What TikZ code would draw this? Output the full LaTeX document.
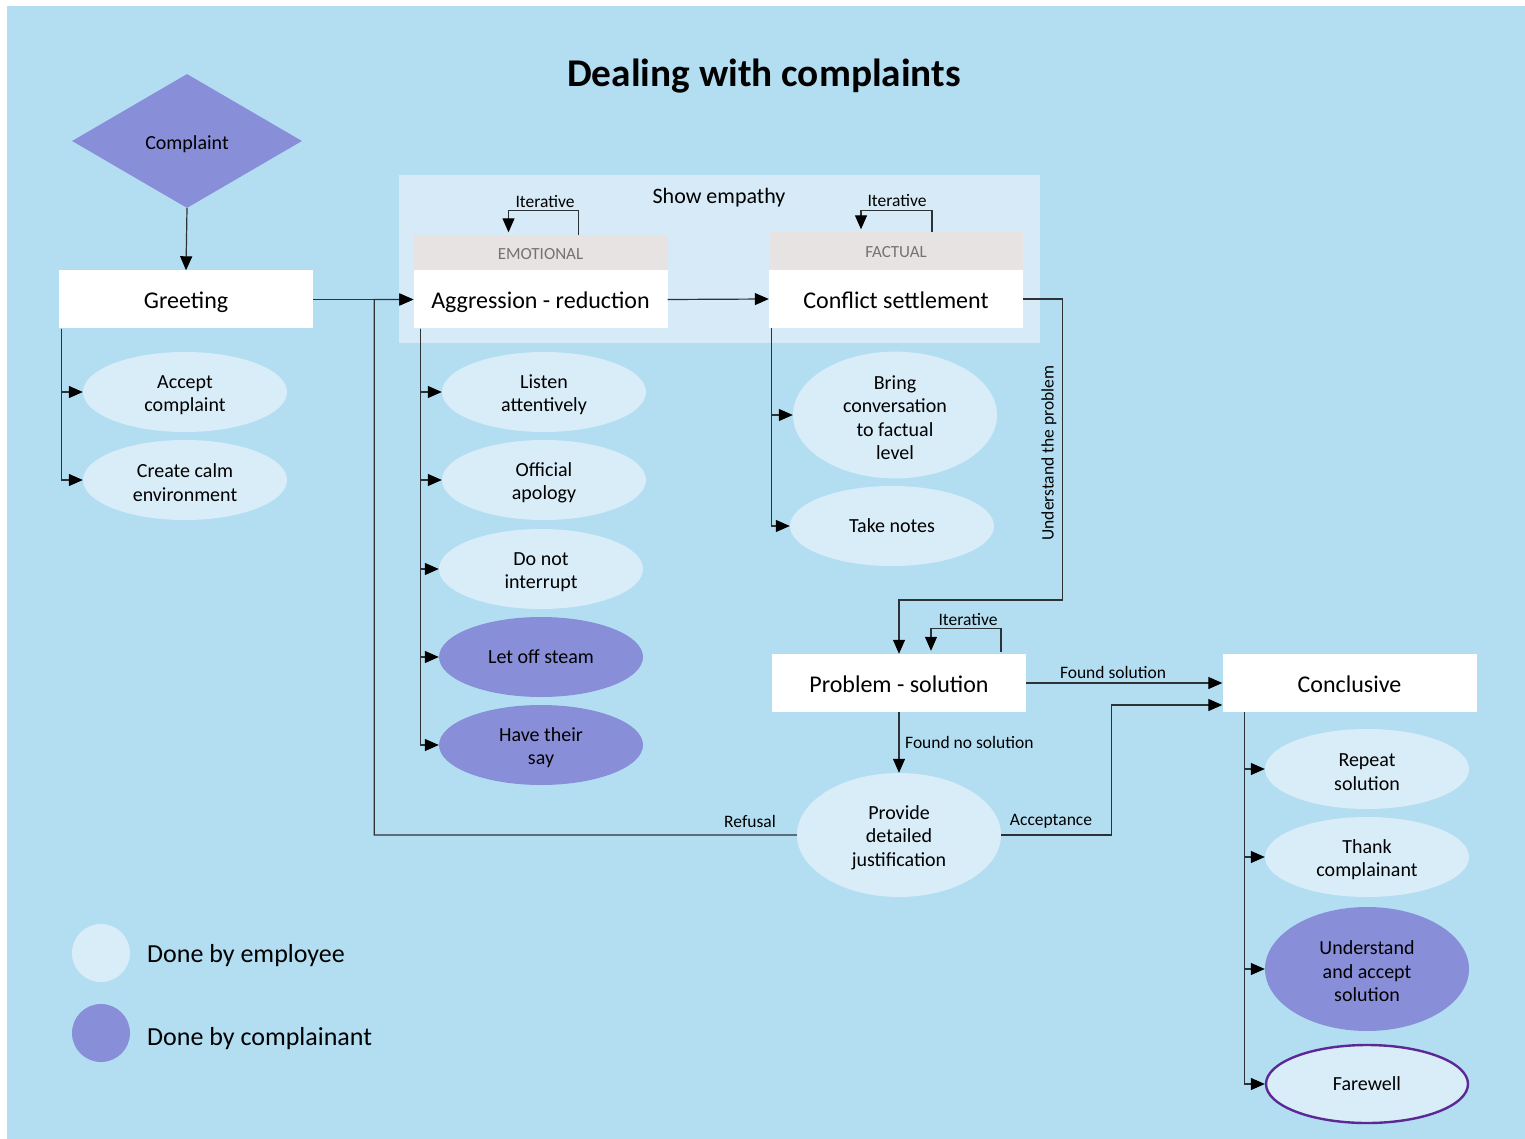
\documentclass[tikz,border=0pt]{standalone}
\usepackage{fontspec}
\setmainfont{Carlito}
\usetikzlibrary{shapes.geometric,arrows.meta,calc}

\definecolor{sky}{RGB}{179,222,242}
\definecolor{pale}{RGB}{217,237,248}
\definecolor{panel}{RGB}{214,235,247}
\definecolor{lav}{RGB}{137,142,217}
\definecolor{hdrgray}{RGB}{231,227,226}
\definecolor{fwborder}{RGB}{92,40,150}
\definecolor{wire}{RGB}{45,50,55}

% strut that lowers the first line of a multi-line task label
\newcommand\tsk{\rule{0pt}{0.95em}}

\begin{document}
\begin{tikzpicture}[x=1pt,y=-1pt,
  conn/.style={draw=wire, line width=1.2pt},
  arr/.style={conn,-{Triangle[length=14pt,width=12pt,color=black]}},
  stage/.style={fill=white, minimum width=254pt, minimum height=58pt, inner sep=0pt,
    text height=24pt, text depth=5pt, font=\fontsize{24}{28}\selectfont},
  hdr/.style={fill=hdrgray, minimum width=254pt, inner sep=0pt,
    font=\fontsize{17}{20}\selectfont, text=black!55},
  task/.style={ellipse, fill=pale, minimum width=204pt, minimum height=80pt, inner sep=0pt,
    align=center, font=\fontsize{20}{23.5}\selectfont},
  tall/.style={minimum height=124pt},
  cust/.style={fill=lav},
  lbl/.style={font=\fontsize{17.5}{20}\selectfont, inner sep=1pt},
  legdot/.style={circle, minimum size=58pt, inner sep=0pt},
  legtxt/.style={anchor=west, font=\fontsize{26}{30}\selectfont, inner sep=0pt}
]
% canvas
\useasboundingbox (0,0) rectangle (1525,1139);
\fill[white] (0,0) rectangle (1525,1139);
\fill[sky] (7,6) rectangle (1525,1139);

% title
\node[font=\bfseries\fontsize{39.3}{44}\selectfont] (title) at (764,76) {Dealing with complaints};

% empathy panel
\fill[panel] (399,175) rectangle (1040,343);
\node[font=\fontsize{22}{26}\selectfont] (empathy) at (719,198) {Show empathy};

% main stages
\node[diamond, fill=lav, minimum width=230pt, minimum height=134pt, inner sep=0pt,
  font=\fontsize{20}{24}\selectfont] (complaint) at (187,141) {\rule{0pt}{1em}Complaint};
\node[stage] (greet) at (186,299.5) {Greeting};
\node[hdr, minimum height=35pt] (emohdr) at (540.5,253) {\rule{0pt}{14pt}EMOTIONAL};
\node[stage] (aggr) at (540.5,299.5) {Aggression - reduction};
\node[hdr, minimum height=37pt] (facthdr) at (896,251) {\rule{0pt}{14pt}FACTUAL};
\node[stage] (conf) at (896,299) {Conflict settlement};
\node[stage] (prob) at (899,683) {Problem - solution};
\node[stage] (concl) at (1349.5,683) {Conclusive};

% tasks
\node[task] (accept) at (185,392) {\tsk Accept\\complaint};
\node[task] (calm) at (185,480) {\tsk Create calm\\environment};
\node[task] (listen) at (544,392) {\tsk Listen\\attentively};
\node[task] (apology) at (544,480) {\tsk Official\\apology};
\node[task] (noint) at (541,569) {\tsk Do not\\interrupt};
\node[task, cust] (steam) at (541,657) {Let off steam};
\node[task, cust] (say) at (541,745) {\tsk Have their\\say};
\node[task, tall] (bring) at (895,415) {\tsk Bring\\conversation\\to factual\\level};
\node[task] (notes) at (892,526) {Take notes};
\node[task, tall] (just) at (899,835) {\tsk Provide\\detailed\\justification};
\node[task] (repeat) at (1367,769) {\tsk Repeat\\solution};
\node[task] (thank) at (1367,857) {\tsk Thank\\complainant};
\node[task, tall, cust] (underst) at (1367,969) {\tsk Understand\\and accept\\solution};
\node[task, draw=fwborder, line width=2.4pt, minimum width=202pt, minimum height=78pt] (farewell) at (1367,1084) {Farewell};

% main flow
\draw[arr] (complaint.south) -- (greet.north);
\draw[arr] (greet.east) -- (aggr.west);
\draw[arr] (aggr.east) -- (conf.west);
\draw[arr] (conf.east) -| ++(39,301) -| (prob.north);
\node[lbl, rotate=90] (understand) at (1049,453) {Understand the problem};
\draw[arr] (prob.east) -- (concl.west);
\node[lbl, anchor=south] (found) at (1113,680) {Found solution};
\draw[arr] (prob.south) -- (just.north);
\node[lbl, anchor=west] (nofound) at (904,742) {Found no solution};
\draw[arr] (just.east) -- ++(110,0) |- ($(concl.west)+(0,22)$);
\node[lbl, anchor=south] (acceptance) at (1051,830) {Acceptance};
\draw[arr] (just.west) -| ($(greet.east)!0.61!(aggr.west)$) -- (aggr.west);
\node[lbl, anchor=south] (refusal) at (750,829) {Refusal};

% iteration loops
\draw[arr] ($(emohdr.north)+(38,0)$) -- ++(0,-25) -| ($(emohdr.north)+(-32,-3)$);
\node[lbl, anchor=south] (it1) at (545,209) {Iterative};
\draw[arr] ($(facthdr.north)+(36,0)$) -- ++(0,-22) -| ($(facthdr.north)+(-35,-3)$);
\node[lbl, anchor=south] (it2) at (897,208) {Iterative};
\draw[arr] ($(prob.north)+(102,-2)$) -- ++(0,-23) -| ($(prob.north)+(32,-3)$);
\node[lbl, anchor=south] (it3) at (968,627) {Iterative};

% task branches
\foreach \t in {accept,calm}
  \draw[arr] ([xshift=3pt]greet.south west) |- (\t.west);
\foreach \t in {listen,apology,noint,steam,say}
  \draw[arr] ([xshift=7pt]aggr.south west) |- (\t.west);
\foreach \t in {bring,notes}
  \draw[arr] ([xshift=3pt]conf.south west) |- (\t.west);
\foreach \t in {repeat,thank,underst,farewell}
  \draw[arr] ([xshift=22pt]concl.south west) |- (\t.west);

% legend
\node[legdot, fill=pale] (legemp) at (101,953) {};
\node[legtxt] (legemptxt) at (147,956) {Done by employee};
\node[legdot, fill=lav] (legcus) at (101,1033) {};
\node[legtxt] (legcustxt) at (147,1039) {Done by complainant};
\end{tikzpicture}
\end{document}
